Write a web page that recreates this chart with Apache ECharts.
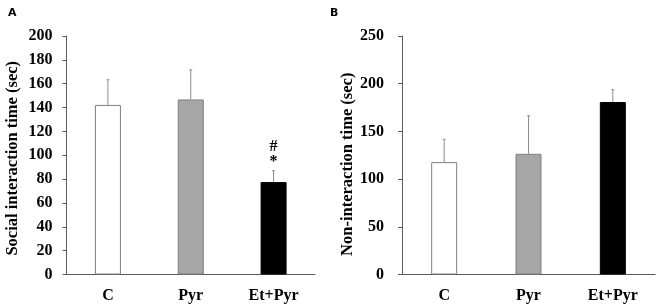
<!DOCTYPE html>
<html>
<head>
<meta charset="utf-8">
<script src="https://cdn.jsdelivr.net/npm/echarts@6/dist/echarts.min.js"></script>
<style>
  html, body { margin: 0; padding: 0; background: #fff; }
  #chart { width: 658px; height: 305px; }
</style>
</head>
<body>
<div id="chart"></div>
<script>
const categories = ['C', 'Pyr', 'Et+Pyr'];
const socialMeans = [142.2, 146.8, 77.5];
const socialErrTops = [163.3, 171.6, 87];
const socialMarks = ['', '', '#\n*'];
const nonMeans = [117.8, 126.5, 180.8];
const nonErrTops = [141.8, 166.4, 193.7];
const nonMarks = ['', '', ''];
const barColors = ['#ffffff', '#a6a6a6', '#000000'];
const barBorders = ['#7f7f7f', '#7f7f7f', '#000000'];

const FONT = 'Liberation Serif';
const AXIS_COLOR = '#595959';

const chart = echarts.init(document.getElementById('chart'));

function barData(values) {
    return values.map(function (v, i) {
        return {
            value: v,
            itemStyle: { color: barColors[i], borderColor: barBorders[i], borderWidth: 1 }
        };
    });
}

function errData(means, tops, marks) {
    return means.map(function (m, i) {
        return [i, m, tops[i], marks[i]];
    });
}

function renderErr(params, api) {
    const base = api.coord([api.value(0), api.value(1)]);
    const top = api.coord([api.value(0), api.value(2)]);
    const mark = api.value(3);
    const children = [
        {
            type: 'line',
            shape: { x1: base[0], y1: base[1], x2: top[0], y2: top[1] },
            style: { stroke: '#8c8c8c', lineWidth: 1 }
        },
        {
            type: 'line',
            shape: { x1: top[0] - 1.5, y1: top[1], x2: top[0] + 1.5, y2: top[1] },
            style: { stroke: '#8c8c8c', lineWidth: 1 }
        }
    ];
    if (mark) {
        children.push({
            type: 'text',
            x: top[0],
            y: top[1] - 1,
            style: {
                text: mark,
                fill: '#000',
                font: 'bold 16px "' + FONT + '"',
                align: 'center',
                verticalAlign: 'bottom',
                lineHeight: 15
            }
        });
    }
    return { type: 'group', children: children };
}

function xAxisFor(gridIndex) {
    return {
        type: 'category',
        gridIndex: gridIndex,
        data: categories,
        axisLine: { lineStyle: { color: AXIS_COLOR, width: 1 } },
        axisTick: { show: false },
        axisLabel: {
            color: '#000',
            fontFamily: FONT,
            fontWeight: 'bold',
            fontSize: 16,
            margin: 13
        }
    };
}

function yAxisFor(gridIndex, name, max, interval, labelMargin, nameGap, namePad) {
    return {
        type: 'value',
        gridIndex: gridIndex,
        min: 0,
        max: max,
        interval: interval,
        name: name,
        nameLocation: 'middle',
        nameGap: nameGap,
        nameTextStyle: {
            color: '#000',
            fontFamily: FONT,
            fontWeight: 'bold',
            fontSize: 16.5,
            padding: [0, namePad, 0, 0]
        },
        splitLine: { show: false },
        axisLine: { show: true, lineStyle: { color: AXIS_COLOR, width: 1 } },
        axisTick: { show: true, length: 4, lineStyle: { color: AXIS_COLOR } },
        axisLabel: {
            color: '#000',
            fontFamily: FONT,
            fontWeight: 'bold',
            fontSize: 16,
            margin: labelMargin
        }
    };
}

const option = {
    backgroundColor: '#fff',
    animation: false,
    title: [
        {
            text: 'A', left: 3, top: 3,
            textStyle: { fontFamily: 'DejaVu Sans', fontWeight: 'bold', fontSize: 11, color: '#000' }
        },
        {
            text: 'B', left: 325, top: 3,
            textStyle: { fontFamily: 'DejaVu Sans', fontWeight: 'bold', fontSize: 11, color: '#000' }
        }
    ],
    grid: [
        { left: 66.5, right: 343, top: 36, bottom: 30.5 },
        { left: 402, right: 3, top: 36, bottom: 30.5 }
    ],
    xAxis: [xAxisFor(0), xAxisFor(1)],
    yAxis: [
        yAxisFor(0, 'Social interaction time (sec)', 200, 20, 14, 45, 6),
        yAxisFor(1, 'Non-interaction time (sec)', 250, 50, 18, 46, 18)
    ],
    series: [
        {
            type: 'bar', xAxisIndex: 0, yAxisIndex: 0,
            barWidth: 26, data: barData(socialMeans)
        },
        {
            type: 'custom', xAxisIndex: 0, yAxisIndex: 0,
            renderItem: renderErr, data: errData(socialMeans, socialErrTops, socialMarks), z: 3
        },
        {
            type: 'bar', xAxisIndex: 1, yAxisIndex: 1,
            barWidth: 26, data: barData(nonMeans)
        },
        {
            type: 'custom', xAxisIndex: 1, yAxisIndex: 1,
            renderItem: renderErr, data: errData(nonMeans, nonErrTops, nonMarks), z: 3
        }
    ]
};
chart.setOption(option);
</script>
</body>
</html>
